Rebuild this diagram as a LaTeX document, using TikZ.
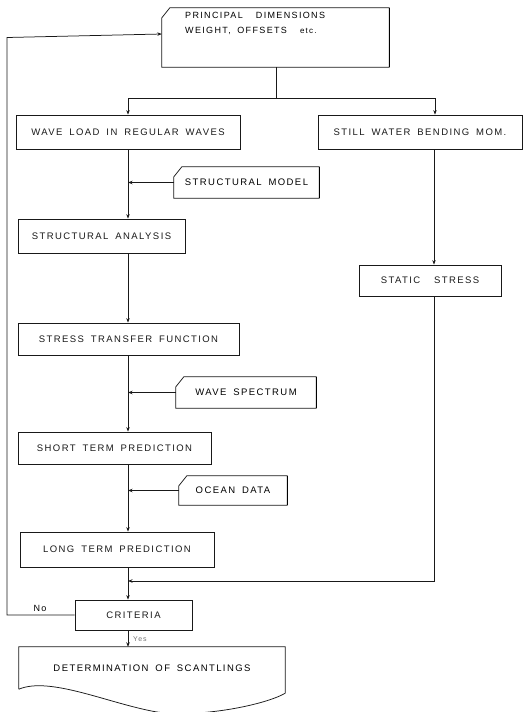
\documentclass[tikz,border=0pt]{standalone}
\usepackage{fontspec}
\setmainfont{Liberation Sans}[LetterSpace=15,WordSpace=1.7]
\usetikzlibrary{arrows.meta}
\newcommand\cardshape[1]{%
  \draw[line] ([xshift=8pt]#1.north west) -- (#1.north east) -- (#1.south east) -- (#1.south west) -- ([yshift=-10pt]#1.north west) -- cycle;
  \draw[line width=1.3pt] (#1.north east) -- (#1.south east);}
\begin{document}
\begin{tikzpicture}[x=1pt,y=-1pt,
  line/.style={line width=0.75pt,black!90},
  arr/.style={line,-{Stealth[length=4.5pt,width=3.5pt]}},
  box/.style={draw,line width=0.75pt,black!90,inner sep=0pt,font=\fontsize{9.5}{11}\selectfont},
  card/.style={inner sep=0pt,font=\fontsize{9.5}{11}\selectfont},
  lbl/.style={font=\fontsize{9}{11}\selectfont,inner sep=1pt}]
\useasboundingbox (0,0) rectangle (528,712);
% top card
\node[card,minimum width=227pt,minimum height=59pt] (p) at (275.5,37.5) {};
\cardshape{p}
\node[card,anchor=north west,align=left,font=\fontsize{9}{15}\selectfont] (pt) at (185,12) {PRINCIPAL\ \ DIMENSIONS\\WEIGHT, OFFSETS\ \ {\fontsize{8}{10}\selectfont etc.}};
% boxes
\node[box,minimum width=224pt,minimum height=34pt] (wl) at (128,132) {WAVE LOAD IN REGULAR WAVES};
\node[box,minimum width=204pt,minimum height=34pt] (sw) at (420,132) {STILL WATER BENDING MOM.};
\node[card,minimum width=145pt,minimum height=31pt] (sm) at (246.5,182.5) {STRUCTURAL MODEL};
\cardshape{sm}
\node[box,minimum width=167pt,minimum height=34pt] (sa) at (101.5,236) {STRUCTURAL ANALYSIS};
\node[box,minimum width=142pt,minimum height=31pt] (ss) at (430,280.5) {STATIC\ \ STRESS};
\node[box,minimum width=221pt,minimum height=32pt] (st) at (128.5,339) {STRESS TRANSFER FUNCTION};
\node[card,minimum width=140pt,minimum height=31pt] (ws) at (246,392.5) {WAVE SPECTRUM};
\cardshape{ws}
\node[box,minimum width=193pt,minimum height=32pt] (sh) at (114.5,448) {SHORT TERM PREDICTION};
\node[card,minimum width=108pt,minimum height=29pt] (od) at (233,490.5) {OCEAN DATA};
\cardshape{od}
\node[box,minimum width=194pt,minimum height=35pt] (lt) at (117,549.5) {LONG TERM PREDICTION};
\node[box,minimum width=117pt,minimum height=30pt] (cr) at (133.5,615) {CRITERIA};
% document shape
\node[card,minimum width=266pt,minimum height=42pt] (dt) at (152,668) {DETERMINATION OF SCANTLINGS};
\draw[line] (dt.south west) -- (dt.north west) -- (dt.north east) -- ([yshift=-4pt]dt.south east)
  .. controls (265,705) and (200,718) .. (157,712)
  .. controls (110,704) and (50,676) .. (dt.south west);
% coordinates
\coordinate (split) at (276,98);
\coordinate (rsplit) at (435,98);
\coordinate (rx) at (434,0);
\coordinate (merge) at (128,581);
\coordinate (fb) at (7,615);
% split
\draw[line] (p.south -| split) -- (split);
\draw[line] (wl.north |- split) -- (rsplit);
\draw[arr] (wl.north |- split) -- (wl.north);
\draw[arr] (rsplit) -- (rsplit |- sw.north);
% main chain
\draw[arr] (wl.south) -- (wl.south |- sa.north);
\draw[arr] (sm.west) -- (wl.south |- sm.west);
\draw[arr] (wl.south |- sa.south) -- (wl.south |- st.north);
\draw[arr] (st.south -| wl.south) -- (wl.south |- sh.north);
\draw[arr] (ws.west) -- (wl.south |- ws.west);
\draw[arr] (sh.south -| wl.south) -- (wl.south |- lt.north);
\draw[arr] (od.west) -- (wl.south |- od.west);
\draw[arr] (lt.south -| wl.south) -- (wl.south |- cr.north);
% still water branch
\draw[arr] (rx |- sw.south) -- (rx |- ss.north);
\draw[arr] (rx |- ss.south) -- (rx |- merge) -- (merge);
% criteria
\draw[arr] (cr.south -| wl.south) -- (wl.south |- dt.north);
\node[lbl,text=black!55,anchor=west,font=\fontsize{7}{8}\selectfont] (yes) at (132,639) {Yes};
\draw[arr] (cr.west) -- (fb) -- (fb |- p.west) -- (p.west |- 0,34);
\node[lbl,anchor=south] (no) at (40,613) {No};
\end{tikzpicture}
\end{document}
